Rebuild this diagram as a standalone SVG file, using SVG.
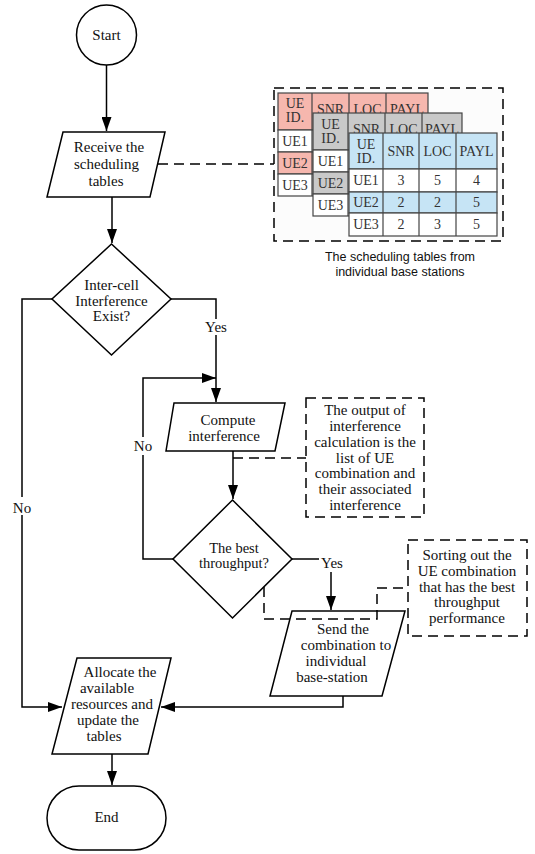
<svg xmlns="http://www.w3.org/2000/svg" width="535" height="854" viewBox="0 0 535 854">
<style>
.n{fill:#fff;stroke:#000;stroke-width:1.5}
.tx{font-family:"Liberation Serif","Times New Roman",serif;font-size:15px;fill:#111;text-anchor:middle}
.c{fill:none;stroke:#000;stroke-width:1.5}
.d{fill:none;stroke:#000;stroke-width:1.5;stroke-dasharray:10,6}
.db{fill:#fff;stroke:#000;stroke-width:1.5;stroke-dasharray:10,6}
.tc{stroke:#444;stroke-width:1.2}
.tt{font-family:"Liberation Serif","Times New Roman",serif;font-size:14px;fill:#333;text-anchor:middle}
.cap{font-family:"Liberation Sans",Arial,sans-serif;font-size:12.5px;fill:#111;text-anchor:middle}
.r{fill:#f6b7ae}.g{fill:#c9c9c9}.b{fill:#c6e4f5}.w{fill:#fff}
</style>
<defs>
<marker id="ah" markerUnits="userSpaceOnUse" markerWidth="14" markerHeight="10" refX="14" refY="5" orient="auto">
<path d="M0,0 L14,5 L0,10 z" fill="#000"/>
</marker>
</defs>
<rect width="535" height="854" fill="#fff"/>

<g id="tables">
<rect class="db" x="274" y="88" width="229" height="153" style="fill:#fcfcfc"/>
<g id="table-red">
<rect class="tc r" x="278" y="93" width="150" height="37"/>
<rect class="tc w" x="278" y="130" width="150" height="22"/>
<rect class="tc r" x="278" y="152" width="150" height="22"/>
<rect class="tc w" x="278" y="174" width="150" height="22"/>
<path class="tc" d="M312,93V196M349,93V196M386,93V196"/>
<text class="tt" x="295" y="108">UE</text><text class="tt" x="295" y="122">ID.</text>
<text class="tt" x="330.5" y="114">SNR</text><text class="tt" x="367.5" y="114">LOC</text><text class="tt" x="407" y="114">PAYL</text>
<text class="tt" x="295" y="146">UE1</text><text class="tt" x="295" y="168">UE2</text><text class="tt" x="295" y="190">UE3</text>
</g>
<g id="table-gray">
<rect class="tc g" x="313" y="113" width="149" height="37"/>
<rect class="tc w" x="313" y="150" width="149" height="22"/>
<rect class="tc g" x="313" y="172" width="149" height="22"/>
<rect class="tc w" x="313" y="194" width="149" height="22"/>
<path class="tc" d="M348,113V216M385,113V216M422,113V216"/>
<text class="tt" x="330.5" y="129">UE</text><text class="tt" x="330.5" y="143">ID.</text>
<text class="tt" x="366.5" y="134">SNR</text><text class="tt" x="403.5" y="134">LOC</text><text class="tt" x="442" y="134">PAYL</text>
<text class="tt" x="330.5" y="166">UE1</text><text class="tt" x="330.5" y="188">UE2</text><text class="tt" x="330.5" y="210">UE3</text>
</g>
<g id="table-blue">
<rect class="tc b" x="349" y="133" width="148" height="36"/>
<rect class="tc w" x="349" y="169" width="148" height="23"/>
<rect class="tc b" x="349" y="192" width="148" height="21"/>
<rect class="tc w" x="349" y="213" width="148" height="23"/>
<path class="tc" d="M383,133V236M419,133V236M456,133V236"/>
<text class="tt" x="366" y="149">UE</text><text class="tt" x="366" y="163">ID.</text>
<text class="tt" x="401" y="156">SNR</text><text class="tt" x="437.5" y="156">LOC</text><text class="tt" x="476.5" y="156">PAYL</text>
<text class="tt" x="366" y="185">UE1</text><text class="tt" x="401" y="185">3</text><text class="tt" x="437.5" y="185">5</text><text class="tt" x="476.5" y="185">4</text>
<text class="tt" x="366" y="207">UE2</text><text class="tt" x="401" y="207">2</text><text class="tt" x="437.5" y="207">2</text><text class="tt" x="476.5" y="207">5</text>
<text class="tt" x="366" y="229">UE3</text><text class="tt" x="401" y="229">2</text><text class="tt" x="437.5" y="229">3</text><text class="tt" x="476.5" y="229">5</text>
</g>
<text class="cap" x="400" y="261">The scheduling tables from</text>
<text class="cap" x="400" y="276">individual base stations</text>
</g>

<g font-family="Liberation Serif, serif">
<g id="start"><circle class="n" cx="106.5" cy="35" r="30"/><text class="tx" x="106.5" y="40">Start</text></g>
<g id="receive"><path class="n" d="M63,132H165L150,197H47z"/>
<text class="tx" x="109" y="152">Receive the</text><text class="tx" x="106.5" y="169">scheduling</text><text class="tx" x="106" y="186">tables</text></g>
<g id="exist"><path class="n" d="M111.5,244L171,299L111.5,355L52,299z"/>
<text class="tx" x="111.5" y="290">Inter-cell</text><text class="tx" x="111.5" y="305.5">Interference</text><text class="tx" x="111.5" y="321">Exist?</text></g>
<g id="compute"><path class="n" d="M174,403H285L275,451H166z"/>
<text class="tx" x="228" y="425">Compute</text><text class="tx" x="224" y="441">interference</text></g>
<g id="note1"><rect class="db" x="306" y="398" width="118" height="119"/>
<text class="tx" x="365" y="415">The output of</text><text class="tx" x="365" y="431">interference</text><text class="tx" x="365" y="447">calculation is the</text><text class="tx" x="365" y="463">list of UE</text><text class="tx" x="365" y="478">combination and</text><text class="tx" x="365" y="494">their associated</text><text class="tx" x="365" y="510">interference</text></g>
<g id="best"><path class="n" d="M232.5,500L292,559L232.5,618L173,559z"/>
<text class="tx" x="234" y="553" style="font-size:14.5px">The best</text><text class="tx" x="234" y="568" style="font-size:14.5px">throughput?</text></g>
<g id="note2"><rect class="db" x="408" y="540" width="119" height="96"/>
<text class="tx" x="467" y="560">Sorting out the</text><text class="tx" x="467" y="576">UE combination</text><text class="tx" x="467" y="592">that has the best</text><text class="tx" x="467" y="607">throughput</text><text class="tx" x="467" y="623">performance</text></g>
<g id="send"><path class="n" d="M292,611H405L382,696H270z"/>
<text class="tx" x="343" y="634">Send the</text><text class="tx" x="346" y="650">combination to</text><text class="tx" x="336" y="666">individual</text><text class="tx" x="332" y="682">base-station</text></g>
<g id="allocate"><path class="n" d="M77,658H171L148,754H52z"/>
<text class="tx" x="120" y="677">Allocate the</text><text class="tx" x="107" y="693">available</text><text class="tx" x="112" y="709">resources and</text><text class="tx" x="108" y="725">update the</text><text class="tx" x="104" y="741">tables</text></g>
<g id="end"><rect class="n" x="47" y="786" width="119" height="64" rx="32"/><text class="tx" x="106.5" y="822">End</text></g>
</g>

<g id="connectors">
<path class="c" d="M106.5,65V131" marker-end="url(#ah)"/>
<path class="d" d="M158,164H274"/>
<path class="c" d="M112,197V243" marker-end="url(#ah)"/>
<path class="c" d="M52,299H22V707H62" marker-end="url(#ah)"/>
<path class="c" d="M171,299H216V402" marker-end="url(#ah)"/>
<path class="c" d="M173,559H143V378H216" marker-end="url(#ah)"/>
<path class="c" d="M233,451V499" marker-end="url(#ah)"/>
<path class="d" d="M233,458H306"/>
<path class="c" d="M292,559H319"/>
<path class="c" d="M331,572V610" marker-end="url(#ah)"/>
<path class="d" d="M264,587V619H377V588H408"/>
<path class="c" d="M343,696V707H161" marker-end="url(#ah)"/>
<path class="c" d="M112,754V785" marker-end="url(#ah)"/>
</g>
<g id="labels" font-family="Liberation Serif, serif">
<rect x="11" y="497" width="23" height="18" fill="#fff"/><text class="tx" x="22" y="513">No</text>
<rect x="132" y="437" width="23" height="18" fill="#fff"/><text class="tx" x="143" y="451">No</text>
<rect x="204" y="319" width="25" height="16" fill="#fff"/><text class="tx" x="216" y="332">Yes</text>
<text class="tx" x="332" y="568">Yes</text>
</g>
</svg>
